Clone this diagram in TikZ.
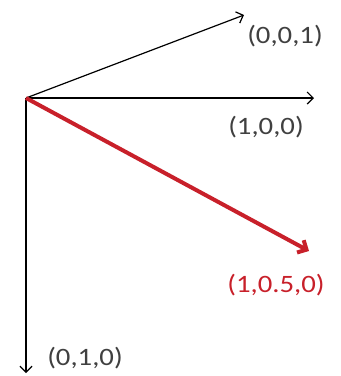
\documentclass[tikz,border=0pt]{standalone}
\usepackage{fontspec}
\setmainfont{Carlito}[FakeStretch=1.15]
\usetikzlibrary{arrows.meta}
\definecolor{vecred}{RGB}{200,32,42}
\tikzset{
  axis/.style={line width=1.2pt,-{Straight Barb[length=6pt,width=12pt]}},
  vec/.style={line width=4pt,vecred,-{Straight Barb[length=7pt,width=14pt]}},
  lab/.style={font=\fontsize{25}{28}\selectfont,text=black!75,inner sep=0pt}
}
\begin{document}
\begin{tikzpicture}[x=1pt,y=-1pt]
\useasboundingbox (0,0) rectangle (341,376);
\coordinate (O) at (26,98); \coordinate (Z) at (244,15); \coordinate (X) at (314,98);
\coordinate (Y) at (26,373); \coordinate (V) at (309,251);
\draw[axis] (O)--(Z);
\draw[axis] (O)--(X);
\draw[axis] (O)--(Y);
\draw[vec] (O)--(V);
\foreach \n/\p/\t in {lz/{(285,36)}/{(0,0,1)},lx/{(266,127)}/{(1,0,0)},ly/{(85,358)}/{(0,1,0)}}{\node[lab] (\n) at \p {\t};}
\node[lab,text=vecred] (lv) at (276,285) {(1,0.5,0)};
\end{tikzpicture}
\end{document}
